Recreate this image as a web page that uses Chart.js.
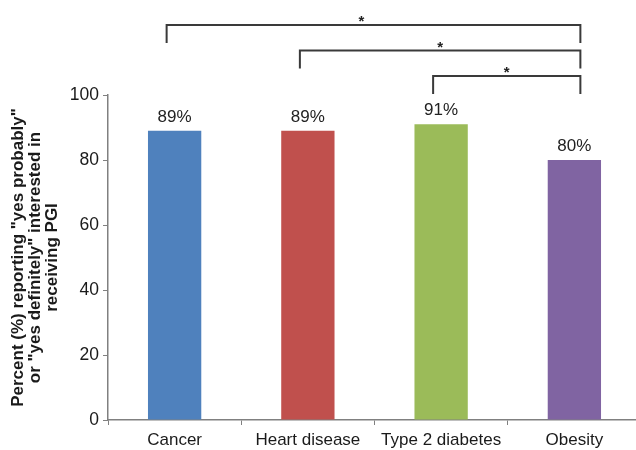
<!DOCTYPE html>
<html>
<head>
<meta charset="utf-8">
<script src="https://cdn.jsdelivr.net/npm/chart.js@4.4.0/dist/chart.umd.min.js"></script>
<style>
  html, body { margin: 0; padding: 0; background: #fff; overflow: hidden; }
  #wrap { width: 636px; height: 450px; overflow: hidden; }
</style>
</head>
<body>
<div id="wrap"><canvas id="chart" width="660" height="450"></canvas></div>
<script>
// ====== DATA ======
const diseases = ['Cancer', 'Heart disease', 'Type 2 diabetes', 'Obesity'];
const percentInterested = [89, 89, 91, 80];
const barColors = ['#4f81bd', '#c0504d', '#9bbb59', '#8064a2'];
const yTicks = [0, 20, 40, 60, 80, 100];
const yTitle = ['Percent (%) reporting "yes probably"', 'or "yes definitely" interested in', 'receiving PGI'];
// significant comparisons: [from category, to category]
const sigPairs = [[0, 3], [1, 3], [2, 3]];
const sigMarks = ['*', '*', '*'];

const FONT = '"Liberation Sans", Arial, sans-serif';
Chart.defaults.font.family = FONT;

// ====== PLUGIN: value labels + significance brackets ======
const annotate = {
  id: 'annotate',
  afterDatasetsDraw(chart) {
    const { ctx, scales: { x, y } } = chart;
    const meta = chart.getDatasetMeta(0);
    ctx.save();
    ctx.fillStyle = '#222';
    ctx.textAlign = 'center';
    ctx.textBaseline = 'alphabetic';
    ctx.font = '17px ' + FONT;
    meta.data.forEach((bar, i) => {
      ctx.fillText(percentInterested[i] + '%', bar.x, bar.y - 9);
    });

    const top = y.getPixelForValue(100);
    ctx.strokeStyle = '#3a3a3a';
    ctx.lineWidth = 2;
    sigPairs.forEach(([a, b], i) => {
      const lineY = top - 70 + i * 25.5;
      const x1 = x.getPixelForValue(a) - 8;
      const x2 = x.getPixelForValue(b) + 6;
      ctx.beginPath();
      ctx.moveTo(x1, lineY + 18);
      ctx.lineTo(x1, lineY);
      ctx.lineTo(x2, lineY);
      ctx.lineTo(x2, lineY + 18);
      ctx.stroke();
      ctx.font = 'bold 15px ' + FONT;
      ctx.fillText(sigMarks[i], (x1 + x2) / 2 - (i === 0 ? 12 : 0), lineY + 1);
    });
    ctx.restore();
  }
};

// ====== CHART ======
const chartCanvas = document.getElementById('chart');
new Chart(chartCanvas.getContext('2d'), {
  type: 'bar',
  data: {
    labels: diseases,
    datasets: [{
      data: percentInterested,
      backgroundColor: barColors,
      borderWidth: 0,
      barPercentage: 0.4,
      categoryPercentage: 1
    }]
  },
  options: {
    responsive: false,
    animation: false,
    devicePixelRatio: 1,
    layout: { padding: { top: 95, right: 19, left: 0, bottom: 0 } },
    plugins: {
      legend: { display: false },
      tooltip: { enabled: false }
    },
    scales: {
      x: {
        afterFit: s => { s.height = 30; },
        grid: { offset: true, drawOnChartArea: false, tickLength: 5, color: '#808080' },
        border: { color: '#808080', width: 1.5 },
        ticks: { color: '#1a1a1a', font: { size: 17, lineHeight: 1 }, padding: 7, maxRotation: 0 }
      },
      y: {
        min: 0,
        max: 100,
        afterBuildTicks: s => { s.ticks = yTicks.map(v => ({ value: v })); },
        afterFit: s => { s.width = 108; },
        grid: { drawOnChartArea: false, tickLength: 5, color: '#808080' },
        border: { color: '#808080', width: 1.5 },
        ticks: { color: '#1a1a1a', font: { size: 17.5 }, padding: 4 },
        title: {
          display: true,
          text: yTitle,
          color: '#1a1a1a',
          font: { size: 17, weight: 'bold', lineHeight: 1 },
          padding: { top: 10, bottom: 0 }
        }
      }
    }
  },
  plugins: [annotate]
});
</script>
</body>
</html>
